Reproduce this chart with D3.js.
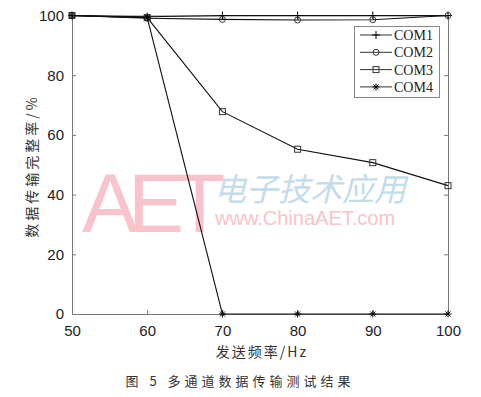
<!DOCTYPE html>
<html>
<head>
<meta charset="utf-8">
<script src="https://cdn.jsdelivr.net/npm/d3@7"></script>
<style>
  body { margin: 0; background: #fff; }
  svg text { fill: #222; }
</style>
</head>
<body>
<svg id="chart" width="481" height="397"></svg>
<script>
var freqs = [50, 60, 70, 80, 90, 100];
var com1 = [100, 99.6, 100, 100, 100, 100];
var com2 = [100, 99.1, 98.7, 98.5, 98.6, 100];
var com3 = [100, 99.3, 67.8, 55.2, 50.7, 43.0];
var com4 = [100, 99.3, 0, 0, 0, 0];
var seriesNames = ['COM1', 'COM2', 'COM3', 'COM4'];
var markers = ['plus', 'circle', 'square', 'star'];
var xTicks = [50, 60, 70, 80, 90, 100];
var yTicks = [0, 20, 40, 60, 80, 100];

var svg = d3.select('#chart');
var plotL = 72, plotR = 448, plotT = 15.5, plotB = 314;

var x = d3.scaleLinear().domain([50, 100]).range([plotL, plotR]);
var y = d3.scaleLinear().domain([0, 100]).range([plotB, plotT]);

// watermark
var wm = svg.append('g');
wm.append('text')
  .attr('x', 82).attr('y', 232)
  .attr('font-family', 'Liberation Sans, Arial, sans-serif')
  .attr('font-size', 84)
  .attr('letter-spacing', -10)
  .style('fill', '#f8c3ca')
  .text('AET');
wm.append('text')
  .attr('x', 214).attr('y', 201)
  .attr('font-family', 'Noto Sans CJK SC, sans-serif')
  .attr('font-size', 32)
  .attr('font-style', 'italic')
  .attr('letter-spacing', 0)
  .style('fill', '#c4dbea')
  .text('电子技术应用');
wm.append('text')
  .attr('x', 215).attr('y', 225)
  .attr('font-family', 'Liberation Sans, Arial, sans-serif')
  .attr('font-size', 20)
  .style('fill', '#f8c3ca')
  .text('www.ChinaAET.com');

// axes
var axisColor = '#777';
var gx = svg.append('g').attr('transform', 'translate(0,' + plotB + ')')
  .call(d3.axisBottom(x).tickValues(xTicks).tickSizeInner(-4).tickSizeOuter(0).tickPadding(8));
var gxt = svg.append('g').attr('transform', 'translate(0,' + plotT + ')')
  .call(d3.axisTop(x).tickValues(xTicks).tickSizeInner(-4).tickSizeOuter(0).tickFormat(''));
var gy = svg.append('g').attr('transform', 'translate(' + plotL + ',0)')
  .call(d3.axisLeft(y).tickValues(yTicks).tickSizeInner(-4).tickSizeOuter(0).tickPadding(8));
var gyr = svg.append('g').attr('transform', 'translate(' + plotR + ',0)')
  .call(d3.axisRight(y).tickValues(yTicks).tickSizeInner(-4).tickSizeOuter(0).tickFormat(''));

[gx, gxt, gy, gyr].forEach(function (g) {
  g.selectAll('path, line').attr('stroke', axisColor);
  g.selectAll('text')
    .attr('font-family', 'Liberation Sans, Arial, sans-serif')
    .attr('font-size', 15)
    .style('fill', '#222');
});
gx.selectAll('text').attr('dy', '0.9em');

// series lines
var allData = [com1, com2, com3, com4];
var line = d3.line()
  .x(function (d, i) { return x(freqs[i]); })
  .y(function (d) { return y(d); });

var drawMarker = function (g, type, cx, cy) {
  if (type === 'plus') {
    g.append('path').attr('d', 'M' + (cx - 4) + ',' + cy + 'H' + (cx + 4) + 'M' + cx + ',' + (cy - 4) + 'V' + (cy + 4))
      .attr('stroke', '#000').attr('fill', 'none');
  } else if (type === 'circle') {
    g.append('circle').attr('cx', cx).attr('cy', cy).attr('r', 3)
      .attr('stroke', '#333').attr('fill', 'none');
  } else if (type === 'square') {
    g.append('rect').attr('x', cx - 3).attr('y', cy - 3).attr('width', 6).attr('height', 6)
      .attr('stroke', '#333').attr('fill', 'none');
  } else {
    g.append('path').attr('d', 'M' + (cx - 3.5) + ',' + cy + 'H' + (cx + 3.5) +
        'M' + cx + ',' + (cy - 3.5) + 'V' + (cy + 3.5) +
        'M' + (cx - 2.5) + ',' + (cy - 2.5) + 'L' + (cx + 2.5) + ',' + (cy + 2.5) +
        'M' + (cx - 2.5) + ',' + (cy + 2.5) + 'L' + (cx + 2.5) + ',' + (cy - 2.5))
      .attr('stroke', '#000').attr('fill', 'none');
  }
};

allData.forEach(function (vals, s) {
  var g = svg.append('g');
  g.append('path').datum(vals).attr('d', line)
    .attr('fill', 'none').attr('stroke', '#111').attr('stroke-width', 1.1);
  vals.forEach(function (v, i) {
    drawMarker(g, markers[s], x(freqs[i]), y(v));
  });
});

// legend
var lg = svg.append('g');
lg.append('rect').attr('x', 354.5).attr('y', 26.5).attr('width', 85).attr('height', 71)
  .attr('fill', '#fff').attr('stroke', '#888');
seriesNames.forEach(function (name, i) {
  var ly = 35 + i * 17.3;
  lg.append('line').attr('x1', 360).attr('x2', 392).attr('y1', ly).attr('y2', ly)
    .attr('stroke', '#333');
  drawMarker(lg, markers[i], 376, ly);
  lg.append('text').attr('x', 394).attr('y', ly + 5)
    .attr('font-family', 'Liberation Serif, Times New Roman, serif')
    .attr('font-size', 14)
    .text(name);
});

// axis titles
svg.append('text')
  .attr('transform', 'translate(37,166) rotate(-90)')
  .attr('text-anchor', 'middle')
  .attr('font-family', 'Noto Sans CJK SC, sans-serif')
  .attr('font-size', 14)
  .attr('letter-spacing', 3)
  .style('fill', '#333')
  .text('数据传输完整率/%');

svg.append('text')
  .attr('x', 262).attr('y', 357)
  .attr('text-anchor', 'middle')
  .attr('font-family', 'Noto Sans CJK SC, sans-serif')
  .attr('font-size', 14)
  .attr('letter-spacing', 2)
  .style('fill', '#333')
  .text('发送频率/Hz');

svg.append('text')
  .attr('x', 240).attr('y', 386)
  .attr('text-anchor', 'middle')
  .attr('font-family', 'Noto Sans CJK SC, sans-serif')
  .attr('font-size', 13)
  .attr('letter-spacing', 4)
  .style('fill', '#333')
  .text('图 5  多通道数据传输测试结果');
</script>
</body>
</html>
